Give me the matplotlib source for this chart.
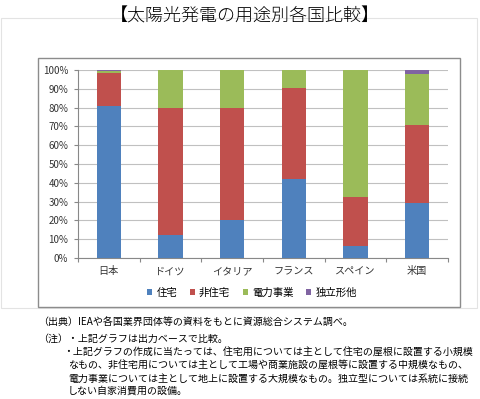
import matplotlib
matplotlib.use("Agg")
import matplotlib.pyplot as plt
from matplotlib.patches import Rectangle
import numpy as np

plt.rcParams['font.family'] = ['Noto Sans CJK JP', 'DejaVu Sans']

# データ（%）
countries = ['日本', 'ドイツ', 'イタリア', 'フランス', 'スペイン', '米国']
series_names = ['住宅', '非住宅', '電力事業', '独立形他']
jutaku = [81.0, 12.0, 20.0, 42.0, 6.6, 29.5]
hi_jutaku = [17.2, 68.0, 60.0, 48.2, 26.1, 41.5]
denryoku = [1.5, 20.0, 20.0, 9.8, 67.3, 27.0]
dokuritsu = [0.3, 0.0, 0.0, 0.0, 0.0, 2.0]
colors = ['#4F81BD', '#C0504D', '#9BBB59', '#8064A2']

title = '【太陽光発電の用途別各国比較】'
notes = [
    ('（出典）IEAや各国業界団体等の資料をもとに資源総合システム調べ。', 38),
    ('（注）・上記グラフは出力ベースで比較。', 38),
    ('・上記グラフの作成に当たっては、住宅用については主として住宅の屋根に設置する小規模', 63),
    ('なもの、非住宅用については主として工場や商業施設の屋根等に設置する中規模なもの、', 68),
    ('電力事業については主として地上に設置する大規模なもの。独立型については系統に接続', 68),
    ('しない自家消費用の設備。', 68),
]

W, H = 481, 399
fig = plt.figure(figsize=(W / 100, H / 100), dpi=100)

# 外枠
fig.patches.append(Rectangle((1 / W, 1 - 308 / H), 476 / W, 290 / H, transform=fig.transFigure,
                             fill=False, edgecolor='#e3e3e3', linewidth=0.8))
fig.patches.append(Rectangle((38 / W, 1 - 307 / H), 422 / W, 249 / H, transform=fig.transFigure,
                             fill=False, edgecolor='#8c8c8c', linewidth=1.0))

ax = fig.add_axes([78 / W, 1 - 258 / H, 370 / W, 188 / H])

x = np.arange(len(countries)) + 0.5
data = [jutaku, hi_jutaku, denryoku, dokuritsu]
bottom = np.zeros(len(countries))
for vals, name, c in zip(data, series_names, colors):
    ax.bar(x, vals, width=0.39, bottom=bottom, color=c, label=name, zorder=3)
    bottom += np.array(vals)

ax.set_xlim(0, len(countries))
ax.set_ylim(0, 100)
ax.set_yticks(np.arange(0, 101, 10))
ax.set_yticklabels([f'{v}%' for v in range(0, 101, 10)], fontsize=7, color='#333333')
ax.yaxis.grid(True, color='#c0c0c0', linewidth=0.8, zorder=0)
ax.set_xticks(np.arange(0, len(countries) + 1))
ax.set_xticklabels([])
ax.set_xticks(x, minor=True)
ax.set_xticklabels(countries, minor=True, fontsize=7.3, color='#333333')
ax.tick_params(axis='x', which='minor', length=0, pad=6)
ax.tick_params(axis='x', which='major', length=3, color='#888888')
ax.tick_params(axis='y', length=3, color='#888888', pad=4)
for s in ['top', 'right']:
    ax.spines[s].set_visible(False)
for s in ['left', 'bottom']:
    ax.spines[s].set_color('#888888')
    ax.spines[s].set_linewidth(0.8)

fig.legend(loc='center', bbox_to_anchor=(252 / W, 1 - 293 / H), ncol=4, frameon=False,
           fontsize=7.5, handlelength=0.5, handleheight=0.5, handletextpad=0.4,
           columnspacing=1.2)

fig.text(245 / W, 1 - 17 / H, title, ha='center', va='center', fontsize=13,
         color='black', fontweight='light')

ys = [323, 339, 353, 366, 379, 391]
for (txt, xp), yp in zip(notes, ys):
    fig.text(xp / W, 1 - yp / H, txt, ha='left', va='center', fontsize=7.2, color='black')

fig.savefig('out.png', dpi=100)
